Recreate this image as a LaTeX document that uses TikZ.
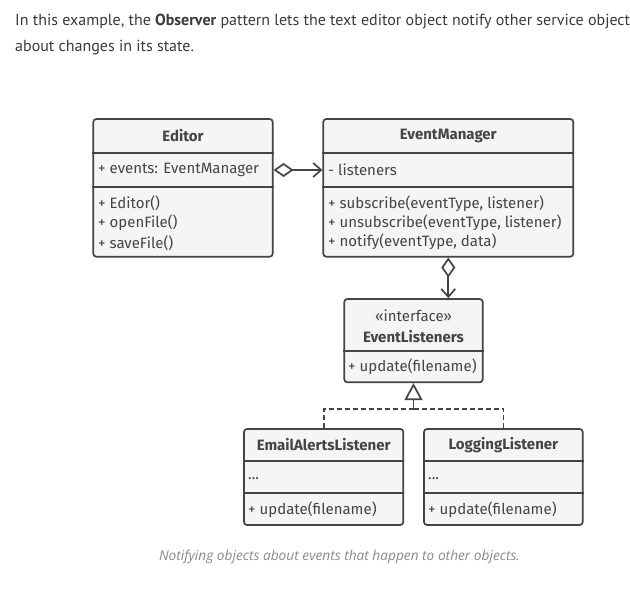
\documentclass[tikz,border=0pt]{standalone}
\usepackage{fontspec}
\setmainfont{PT Sans}
\newfontfamily\diafont{Fira Sans}
\newfontfamily\capfont{Open Sans}
\usetikzlibrary{arrows.meta}
\definecolor{ink}{HTML}{444444}
\definecolor{boxfill}{HTML}{F5F5F5}
\definecolor{bodytext}{HTML}{3A3A3A}
\definecolor{captext}{HTML}{8A8A8A}
\tikzset{
  x=1pt, y=-1pt,
  classbox/.style={draw=ink, fill=boxfill, line width=1.7pt, rounded corners=3pt, inner sep=0pt},
  divider/.style={draw=ink, line width=1.7pt},
  member/.style={anchor=west, inner sep=0pt, text=ink, font=\diafont\fontsize{15}{17}\selectfont},
  title/.style={inner sep=0pt, text=ink, font=\diafont\bfseries\fontsize{15}{17}\selectfont},
  stereo/.style={inner sep=0pt, text=ink, font=\diafont\fontsize{15}{17}\selectfont},
  link/.style={draw=ink, line width=1.7pt},
  aggr/.style={link, {Diamond[open, length=20pt, width=14pt, line width=1.7pt]}-{Straight Barb[length=8pt, width=14pt, line width=1.7pt]}},
  realz/.style={link, -{Triangle[open, length=17pt, width=18pt, line width=1.7pt]}},
  dashedlink/.style={link, dash pattern=on 5pt off 3pt}
}
\begin{document}
\begin{tikzpicture}
\clip (0,0) rectangle (630,597);
\fill[white] (0,0) rectangle (630,597);

% intro text
\node[anchor=base west, inner sep=0pt, text=bodytext, font=\fontsize{16}{26}\selectfont] (intro1) at (15,26)
  {In this example, the \textbf{Observer} pattern lets the text editor object notify other service objects};
\node[anchor=base west, inner sep=0pt, text=bodytext, font=\fontsize{16}{26}\selectfont] (intro2) at (15,52)
  {about changes in its state.};

% Editor
\node[classbox, minimum width=179.4pt, minimum height=137.7pt] (editor) at (183,187.85) {};
\draw[divider] (editor.west |- 0,152.7) -- (editor.east |- 0,152.7);
\draw[divider] (editor.west |- 0,186.7) -- (editor.east |- 0,186.7);
\node[title] (editort) at (183,135.5) {Editor};
\node[member] (evfield) at (98,170) {+ events: EventManager};
\node[member] (edm1) at (98,203) {+ Editor()};
\node[member] (edm2) at (98,223) {+ openFile()};
\node[member] (edm3) at (98,243) {+ saveFile()};

% EventManager
\node[classbox, minimum width=250pt, minimum height=137.7pt] (evm) at (448.3,187.85) {};
\draw[divider] (evm.west |- 0,153) -- (evm.east |- 0,153);
\draw[divider] (evm.west |- 0,187.3) -- (evm.east |- 0,187.3);
\node[title] (evmt) at (448.3,135.5) {EventManager};
\node[member] (lsn) at (328,170) {- listeners};
\node[member] (evm1) at (328,203.5) {+ subscribe(eventType, listener)};
\node[member] (evm2) at (328,223) {+ unsubscribe(eventType, listener)};
\node[member] (evm3) at (328,242) {+ notify(eventType, data)};

% EventListeners
\node[classbox, minimum width=138.4pt, minimum height=83.3pt] (el) at (413.5,340.65) {};
\draw[divider] (el.west |- 0,350.7) -- (el.east |- 0,350.7);
\node[stereo] (elst) at (413.5,316) {«interface»};
\node[title] (elt) at (413.5,336.5) {EventListeners};
\node[member] (elm) at (348,366.5) {+ update(filename)};

% EmailAlertsListener
\node[classbox, minimum width=159.3pt, minimum height=96pt] (email) at (323.65,477) {};
\draw[divider] (email.west |- 0,461) -- (email.east |- 0,461);
\draw[divider] (email.west |- 0,493.3) -- (email.east |- 0,493.3);
\node[title] (emailt) at (323.65,445) {EmailAlertsListener};
\node[member] (emailf) at (248,479) {...};
\node[member] (emailm) at (248,509.5) {+ update(filename)};

% LoggingListener
\node[classbox, minimum width=158.7pt, minimum height=96pt] (logg) at (503.35,477) {};
\draw[divider] (logg.west |- 0,461) -- (logg.east |- 0,461);
\draw[divider] (logg.west |- 0,493.3) -- (logg.east |- 0,493.3);
\node[title] (loggt) at (503.35,445) {LoggingListener};
\node[member] (loggf) at (428,479) {...};
\node[member] (loggm) at (428,509.5) {+ update(filename)};

% connectors
\draw[aggr] (editor.east |- evfield) -- (evm.west |- evfield);
\draw[aggr] (evm.south) -- (evm.south |- el.north);
\coordinate (join) at (413.5,409);
\draw[dashedlink] (email.north) |- (join);
\draw[dashedlink] (logg.north) |- (join);
\draw[realz] (join) -- (el.south);

% caption
\node[inner sep=0pt, text=captext, font=\capfont\itshape\fontsize{13.7}{16}\selectfont] (cap) at (339.5,557)
  {Notifying objects about events that happen to other objects.};
\end{tikzpicture}
\end{document}
